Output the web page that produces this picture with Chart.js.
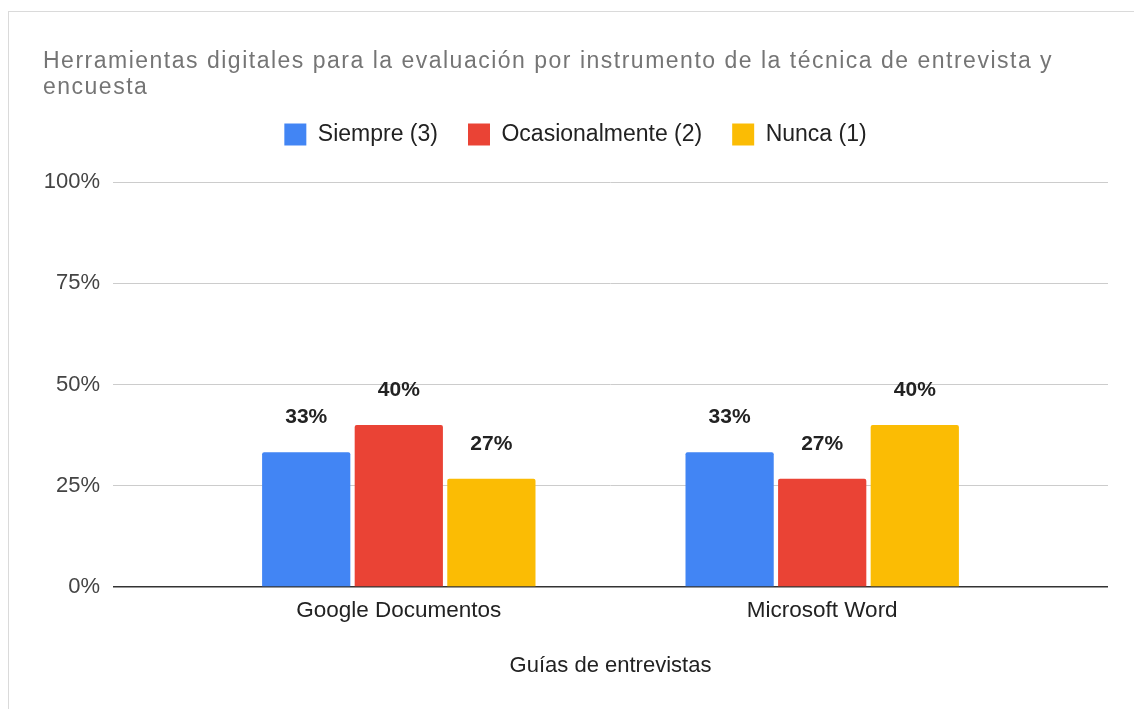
<!DOCTYPE html>
<html>
<head>
<meta charset="utf-8">
<script src="https://cdn.jsdelivr.net/npm/chart.js@4"></script>
<style>
  html, body { margin: 0; padding: 0; background: #fff; overflow: hidden; }
  .frame { position: absolute; left: 8px; top: 11px; width: 1200px; height: 800px; border: 1px solid #dadada; }
  .wrap { position: absolute; left: 0; top: 0; width: 1134px; height: 709px; }
</style>
</head>
<body>
<div class="frame"></div>
<div class="wrap"><canvas id="chart"></canvas></div>
<script>
// categories on the x axis
var categories = ['Google Documentos', 'Microsoft Word'];
// percentage of answers per series
var siempre = [33.3, 33.3];
var ocasionalmente = [40.0, 26.7];
var nunca = [26.7, 40.0];
var yTicks = [0, 25, 50, 75, 100];

function points(values) {
  return values.map(function(v, i) { return { x: i, y: v }; });
}

// draws the bold value above each bar
var barLabels = {
  id: 'barLabels',
  afterDatasetsDraw: function(chart) {
    var ctx = chart.ctx;
    ctx.save();
    ctx.font = 'bold 21px Arial';
    ctx.fillStyle = '#222';
    ctx.textAlign = 'center';
    ctx.textBaseline = 'middle';
    chart.data.datasets.forEach(function(ds, i) {
      chart.getDatasetMeta(i).data.forEach(function(bar, j) {
        ctx.fillText(Math.round(ds.data[j].y) + '%', bar.x, bar.y - 35);
      });
    });
    ctx.restore();
  }
};

// the title in the picture is set wider than plain Arial
var wideTitle = {
  id: 'wideTitle',
  afterLayout: function(chart) {
    var t = chart.titleBlock;
    if (!t || t._wide) return;
    var orig = t.draw;
    t.draw = function() {
      var c = this.ctx;
      c.save();
      c.letterSpacing = '1.5px';
      orig.apply(this, arguments);
      c.restore();
    };
    t._wide = true;
  }
};

var xPad = 0.675;
var ctx = document.getElementById('chart');
new Chart(ctx, {
  type: 'bar',
  data: {
    datasets: [{
      label: 'Siempre (3)',
      data: points(siempre),
      backgroundColor: '#4285F4'
    }, {
      label: 'Ocasionalmente (2)',
      data: points(ocasionalmente),
      backgroundColor: '#EA4335'
    }, {
      label: 'Nunca (1)',
      data: points(nunca),
      backgroundColor: '#FBBC04'
    }]
  },
  plugins: [barLabels, wideTitle],
  options: {
    responsive: true,
    maintainAspectRatio: false,
    animation: false,
    layout: { padding: { left: 43, right: 26, top: 0, bottom: 0 } },
    datasets: {
      bar: { categoryPercentage: 0.656, barPercentage: 0.953, borderRadius: 2 }
    },
    plugins: {
      tooltip: { enabled: false },
      title: {
        display: true,
        align: 'start',
        text: ['Herramientas digitales para la evaluación por instrumento de la técnica de entrevista y', 'encuesta'],
        color: '#757575',
        font: { family: 'Arial', size: 23, weight: 'normal', lineHeight: 26 / 23 },
        padding: { top: 49, bottom: -8 }
      },
      // empty block that only keeps space between legend and plot
      subtitle: {
        display: true,
        text: '',
        weight: 500,
        font: { size: 10, lineHeight: 2.6 },
        padding: 0
      },
      legend: {
        position: 'top',
        labels: {
          boxWidth: 22,
          boxHeight: 22,
          padding: 30,
          color: '#222',
          font: { family: 'Arial', size: 23 }
        }
      }
    },
    scales: {
      x: {
        type: 'linear',
        offset: false,
        min: -xPad,
        max: categories.length - 1 + xPad,
        afterBuildTicks: function(scale) {
          scale.ticks = categories.map(function(c, i) { return { value: i }; });
        },
        afterFit: function(scale) { scale.height = 122; },
        grid: { display: false, drawTicks: false },
        border: { display: false },
        ticks: {
          autoSkip: false,
          maxRotation: 0,
          padding: 10,
          color: '#222',
          font: { family: 'Arial', size: 22.5 },
          callback: function(v) { return categories[v]; }
        },
        title: {
          display: true,
          text: 'Guías de entrevistas',
          color: '#222',
          font: { family: 'Arial', size: 22 },
          padding: { top: 0, bottom: 30 }
        }
      },
      y: {
        min: 0,
        max: 100,
        afterBuildTicks: function(scale) {
          scale.ticks = yTicks.map(function(v) { return { value: v }; });
        },
        afterFit: function(scale) { scale.width = 70; },
        border: { display: false },
        grid: {
          drawTicks: false,
          color: function(c) { return c.tick && c.tick.value === 0 ? '#333' : '#cccccc'; },
          lineWidth: function(c) { return c.tick && c.tick.value === 0 ? 1.5 : 1; }
        },
        ticks: {
          padding: 13,
          color: '#444',
          font: { family: 'Arial', size: 22 },
          callback: function(v) { return v + '%'; }
        }
      }
    }
  }
});
</script>
</body>
</html>
